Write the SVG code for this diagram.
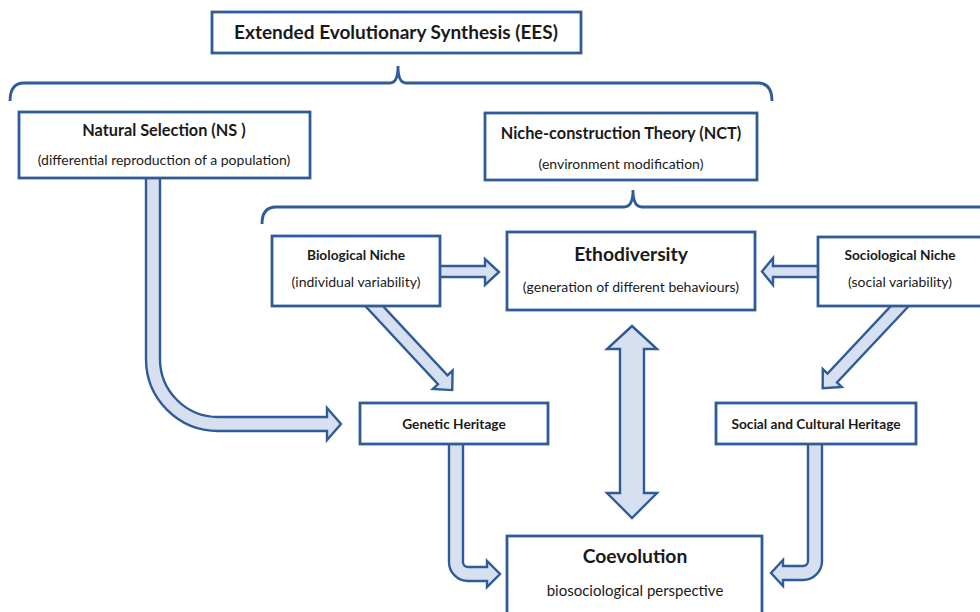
<svg xmlns="http://www.w3.org/2000/svg" width="980" height="612" viewBox="0 0 980 612">
<style>
.box{fill:#fff;stroke:#2F5C98;stroke-width:2.8}
.brace{fill:none;stroke:#2F5C98;stroke-width:2.8}
.arr{fill:#D6E0F0;stroke:#2F5C98;stroke-width:2.4;stroke-linejoin:miter}
text{font-family:Lato,"Open Sans","Liberation Sans",sans-serif;fill:#1a1a1a;text-anchor:middle}
.t1{font-size:19px;font-weight:bold}
.t2{font-size:16.3px;font-weight:bold}
.t3{font-size:13.7px;font-weight:bold}
.t4{font-size:19.3px;font-weight:bold}
.s{font-size:14px}
.s2{font-size:15px}
</style>
<rect width="980" height="612" fill="#fff"/>
<g id="connectors">
<path class="brace" d="M10,101 Q10,83 24,83 H390 Q398,83 398,66 Q398,83 406,83 H758 Q772,83 772,101"/>
<path class="brace" d="M262,224 Q262,207 276,207 H624 Q633,207 633,190 Q633,207 642,207 H982"/>
<path class="arr" d="M146,170 V359 A72,72 0 0 0 218,431 H327 V440 L341,424 L327,408 V417 H218 A58,58 0 0 1 160,359 V170 Z"/>
<path class="arr" d="M430,266 H485 V259 L499,272 L485,285 V277 H430 Z"/>
<path class="arr" d="M828,266 H773 V258 L762,271.5 L773,285 V277 H828 Z"/>
<path class="arr" transform="translate(368.5,300) rotate(47.1)" d="M0,-6.5 H109 V-13.5 L123,0 L109,13.5 V6.5 H0 Z"/>
<path class="arr" transform="translate(905.5,300) rotate(133.2)" d="M0,-6.5 H107 V-13 L121,0 L107,13 V6.5 H0 Z"/>
<path class="arr" d="M632,326 L657,349 H644 V493 H657 L632,518 L607,493 H620 V349 H607 Z"/>
<path class="arr" d="M449,436 V562 A19,19 0 0 0 468,581 H487 V587 L500,574 L487,561 V567 H468 A5,5 0 0 1 463,562 V436 Z"/>
<path class="arr" d="M822,436 V561 A19,19 0 0 1 803,580 H783 V586 L771,573 L783,560 V566 H803 A5,5 0 0 0 808,561 V436 Z"/>
</g>
<g id="ees"><rect class="box" x="212" y="12" width="369" height="41"/><text class="t1" x="396" y="39">Extended Evolutionary Synthesis (EES)</text></g>
<g id="ns"><rect class="box" x="19" y="112" width="291" height="66"/><text class="t2" x="164" y="136">Natural Selection (NS )</text><text class="s" x="164" y="165">(differential reproduction of a population)</text></g>
<g id="nct"><rect class="box" x="485" y="113" width="272" height="67"/><text class="t2" x="621" y="139">Niche-construction Theory (NCT)</text><text class="s" x="621" y="169">(environment modification)</text></g>
<g id="bio"><rect class="box" x="272" y="236" width="168" height="70"/><text class="t3" x="356" y="260">Biological Niche</text><text class="s" x="356" y="287">(individual variability)</text></g>
<g id="etho"><rect class="box" x="507" y="232" width="248" height="78"/><text class="t4" x="631" y="261">Ethodiversity</text><text class="s" x="631" y="292">(generation of different behaviours)</text></g>
<g id="socio"><rect class="box" x="818" y="237" width="172" height="69"/><text class="t3" x="900" y="260">Sociological Niche</text><text class="s" x="900" y="287">(social variability)</text></g>
<g id="genetic"><rect class="box" x="360" y="403" width="188" height="41"/><text class="t3" x="454" y="429">Genetic Heritage</text></g>
<g id="social"><rect class="box" x="716" y="403" width="200" height="41"/><text class="t3" x="816" y="429">Social and Cultural Heritage</text></g>
<g id="coevo"><rect class="box" x="507" y="536" width="255" height="90"/><text class="t4" x="635" y="563">Coevolution</text><text class="s2" x="635" y="596">biosociological perspective</text></g>
</svg>
